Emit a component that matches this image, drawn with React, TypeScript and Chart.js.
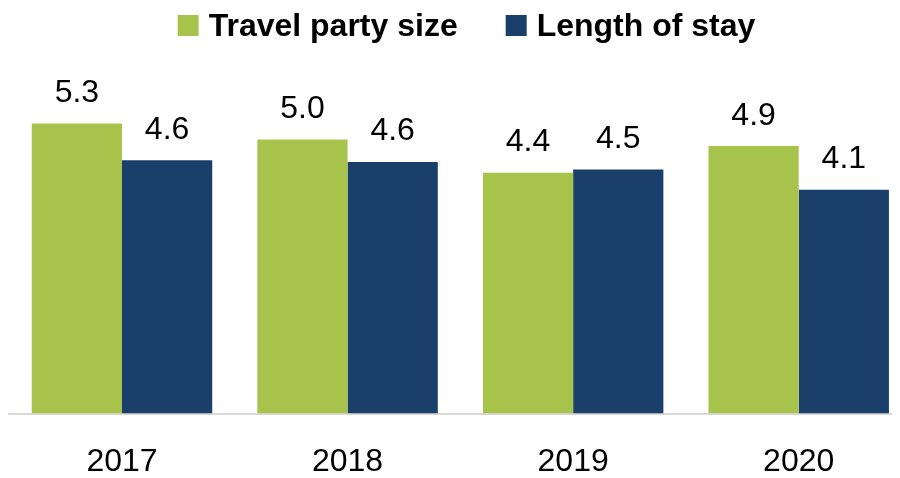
import React, { useEffect, useRef } from "react";
import { Chart, registerables } from "chart.js";

Chart.register(...registerables);

const categories = ["2017", "2018", "2019", "2020"];
const seriesNames = ["Travel party size", "Length of stay"];
const travelPartySize = [5.3, 5.01, 4.4, 4.89];
const lengthOfStay = [4.63, 4.6, 4.46, 4.09];
const seriesColors = ["#A7C34B", "#1B3F6B"];

const FONT = "'Liberation Sans', Arial, sans-serif";

const legendPlugin = {
  id: "customLegend",
  afterDraw(chart: any) {
    const ctx = chart.ctx;
    ctx.save();
    ctx.font = `bold 32px ${FONT}`;
    const box = 21;
    const gapText = 10;
    const gapItem = 48;
    const items = chart.data.datasets.map((ds: any) => ({
      label: ds.label,
      color: ds.backgroundColor,
      w: ctx.measureText(ds.label).width,
    }));
    let total = 0;
    items.forEach((it: any, i: number) => {
      total += box + gapText + it.w + (i > 0 ? gapItem : 0);
    });
    let x = chart.width / 2 + 6.5 - total / 2;
    const boxTop = 7;
    const baseline = 27.7;
    items.forEach((it: any) => {
      ctx.fillStyle = it.color;
      ctx.fillRect(x, boxTop, box, box);
      x += box + gapText;
      ctx.fillStyle = "#000";
      ctx.textBaseline = "alphabetic";
      ctx.textAlign = "left";
      ctx.fillText(it.label, x, baseline);
      x += it.w + gapItem;
    });
    ctx.restore();
  },
};

const dataLabelPlugin = {
  id: "dataLabels",
  afterDatasetsDraw(chart: any) {
    const ctx = chart.ctx;
    ctx.save();
    ctx.font = `32px ${FONT}`;
    ctx.fillStyle = "#000";
    ctx.textAlign = "center";
    ctx.textBaseline = "alphabetic";
    chart.data.datasets.forEach((ds: any, di: number) => {
      const meta = chart.getDatasetMeta(di);
      meta.data.forEach((bar: any, i: number) => {
        const v = ds.data[i];
        ctx.fillText(Number(v).toFixed(1), bar.x, bar.y - 21.5);
      });
    });
    ctx.restore();
  },
};

export default function App() {
  const canvasRef = useRef<HTMLCanvasElement | null>(null);

  useEffect(() => {
    if (!canvasRef.current) return;
    const chart = new Chart(canvasRef.current, {
      type: "bar",
      data: {
        labels: categories,
        datasets: [
          {
            label: seriesNames[0],
            data: travelPartySize,
            backgroundColor: seriesColors[0],
            barPercentage: 1,
            categoryPercentage: 0.8,
          },
          {
            label: seriesNames[1],
            data: lengthOfStay,
            backgroundColor: seriesColors[1],
            barPercentage: 1,
            categoryPercentage: 0.8,
          },
        ],
      },
      options: {
        animation: false,
        responsive: true,
        maintainAspectRatio: false,
        layout: { padding: { left: 1.2, right: 0.5, top: 77.3, bottom: 0 } },
        plugins: {
          legend: { display: false },
          tooltip: { enabled: false },
        },
        scales: {
          x: {
            type: "category",
            offset: true,
            grid: { display: false, drawTicks: false },
            border: { display: true, color: "#D9D9D9", width: 2 },
            ticks: {
              color: "#000",
              padding: 29,
              font: { family: FONT, size: 32 },
            },
            afterFit(scale: any) {
              scale.height = 64.5;
            },
          },
          y: {
            display: false,
            min: 0,
            max: 6,
          },
        },
      },
      plugins: [legendPlugin, dataLabelPlugin],
    });
    return () => chart.destroy();
  }, []);

  return (
    <div style={{ width: 892, height: 470, overflow: "hidden" }}>
      <div style={{ position: "relative", width: 904, height: 470 }}>
        <canvas ref={canvasRef} />
      </div>
    </div>
  );
}
